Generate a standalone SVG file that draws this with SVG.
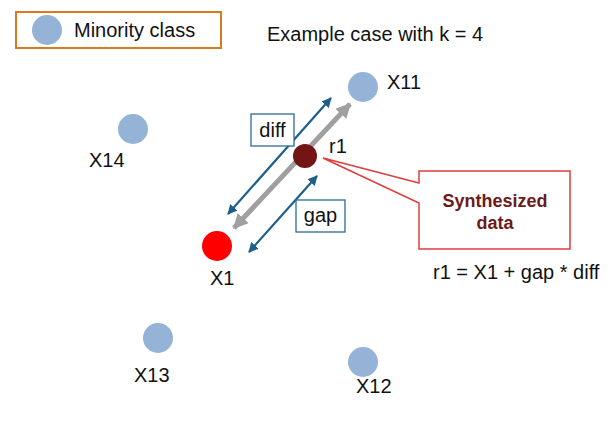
<svg xmlns="http://www.w3.org/2000/svg" width="614" height="425" viewBox="0 0 614 425">
<style>
text{font-family:"Liberation Sans",Arial,sans-serif;fill:#111;font-size:20px}
.pt{fill:#95b3d7}
.lbl{fill:#fff;stroke:#2e6b94;stroke-width:1.3}
.blue{stroke:#1f5f8b;stroke-width:2.2;fill:none}
.gray{stroke:#a0a0a0;stroke-width:5;fill:none}
.syn{fill:#6e1a1a;font-weight:bold;font-size:18px}
</style>
<defs>
<marker id="ab" viewBox="0 0 10 10" refX="9" refY="5" markerWidth="4.5" markerHeight="4.5" orient="auto-start-reverse"><path d="M0,0 L10,5 L0,10 z" fill="#1f5f8b"/></marker>
<marker id="ag" viewBox="0 0 10 10" refX="9" refY="5" markerWidth="3" markerHeight="3" orient="auto-start-reverse"><path d="M0,0 L10,5 L0,10 z" fill="#a0a0a0"/></marker>
</defs>
<rect width="614" height="425" fill="#fff"/>
<g id="legend">
<rect x="16" y="12" width="205" height="36" fill="#fff" stroke="#d97a1f" stroke-width="2"/>
<circle cx="47" cy="30" r="15" class="pt"/>
<text x="74" y="37">Minority class</text>
</g>
<g id="title"><text x="267" y="41">Example case with k = 4</text></g>
<g id="connectors">
<line x1="234" y1="228" x2="350" y2="104" class="gray" marker-start="url(#ag)" marker-end="url(#ag)"/>
<line x1="228" y1="214" x2="331" y2="98" class="blue" marker-start="url(#ab)" marker-end="url(#ab)"/>
<line x1="249" y1="252" x2="317" y2="176" class="blue" marker-start="url(#ab)" marker-end="url(#ab)"/>
</g>
<g id="X11"><circle cx="363" cy="87" r="15" class="pt"/><text x="387" y="89">X11</text></g>
<g id="X14"><circle cx="133" cy="129" r="15" class="pt"/><text x="89" y="167">X14</text></g>
<g id="X13"><circle cx="158" cy="338" r="15" class="pt"/><text x="134" y="382">X13</text></g>
<g id="X12"><circle cx="363" cy="362" r="15" class="pt"/><text x="356" y="393">X12</text></g>
<g id="X1"><circle cx="217" cy="246" r="15" fill="#ff0000"/><text x="210" y="285">X1</text></g>
<g id="r1"><circle cx="305" cy="156" r="12" fill="#741515"/><text x="329" y="153">r1</text></g>
<g id="diff"><rect x="251" y="114" width="43" height="32" class="lbl"/><text x="272.5" y="137" text-anchor="middle">diff</text></g>
<g id="gap"><rect x="296" y="200" width="49" height="32" class="lbl"/><text x="320.5" y="222" text-anchor="middle">gap</text></g>
<g id="callout">
<path d="M419,171 H570 V249 H419 V203 L323,158 L419,183 Z" fill="#fff" stroke="#e03c3c" stroke-width="1.5"/>
<text x="495" y="207" text-anchor="middle" class="syn">Synthesized</text>
<text x="495" y="229" text-anchor="middle" class="syn">data</text>
</g>
<g id="formula"><text x="433" y="279">r1 = X1 + gap * diff</text></g>
</svg>
